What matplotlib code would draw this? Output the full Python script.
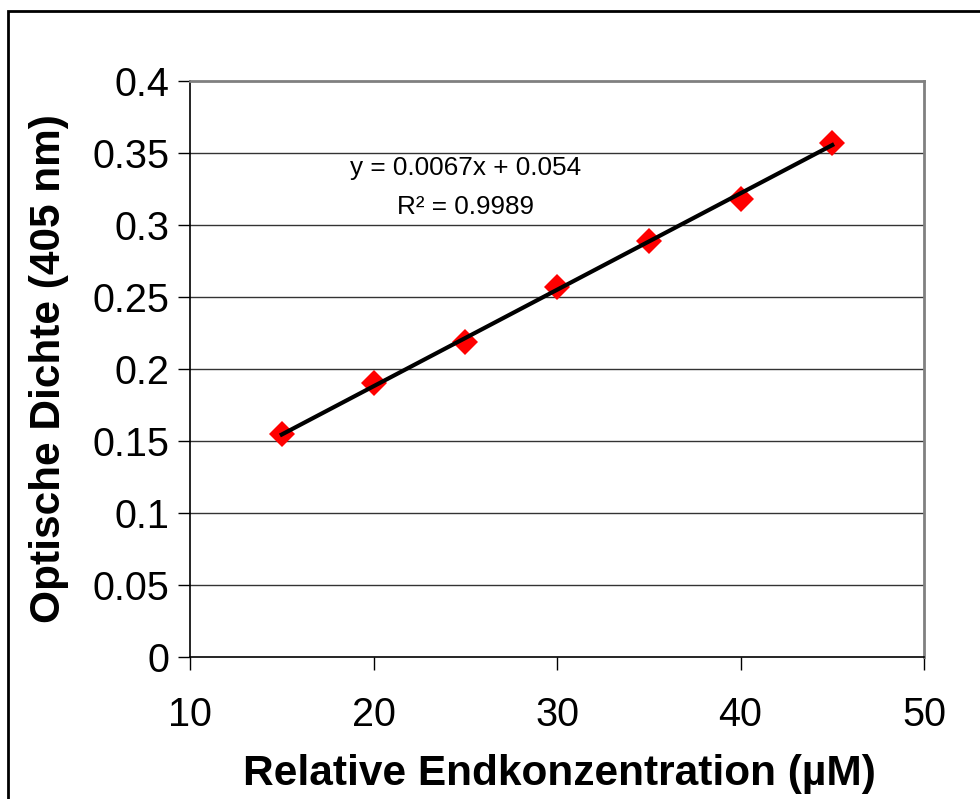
import matplotlib
matplotlib.use("Agg")
import matplotlib.pyplot as plt
from matplotlib.patches import Rectangle
import numpy as np

plt.rcParams["font.family"] = ["Liberation Sans", "DejaVu Sans"]

# data
conc = [15, 20, 25, 30, 35, 40, 45]
od = [0.155, 0.190, 0.219, 0.257, 0.289, 0.318, 0.357]
slope = 0.0067
intercept = 0.054
eq_text = "y = 0.0067x + 0.054"
r2_text = "R² = 0.9989"
x_ticks = [10, 20, 30, 40, 50]
y_ticks = [0, 0.05, 0.1, 0.15, 0.2, 0.25, 0.3, 0.35, 0.4]
y_ticklabels = ["0", "0.05", "0.1", "0.15", "0.2", "0.25", "0.3", "0.35", "0.4"]

fig = plt.figure(figsize=(9.8, 7.99), dpi=100, facecolor="white")
ax = fig.add_axes([190 / 980, 1 - 657 / 799, 734 / 980, 576 / 799])

# outer chart frame (only left and top edge visible in the reference)
fig.patches.append(Rectangle((8 / 980, -0.2), 2.0, 1.2 - 11 / 799, transform=fig.transFigure,
                             fill=False, edgecolor="black", linewidth=2.0))

for y in y_ticks[1:-1]:
    ax.axhline(y, color="#333333", linewidth=1.0, zorder=1)

xfit = np.array([min(conc), max(conc)])
ax.plot(xfit, slope * xfit + intercept, color="black", linewidth=3.0, zorder=3)
ax.plot(conc, od, linestyle="none", marker="D", markersize=13, color="#ff0000",
        markeredgewidth=0, zorder=2)

ax.text(25, 0.3395, eq_text, ha="center", va="center", fontsize=18.8)
ax.text(25, 0.3125, r2_text, ha="center", va="center", fontsize=18.8)

ax.set_xlim(10, 50)
ax.set_ylim(0, 0.4)
ax.set_xticks(x_ticks)
ax.set_yticks(y_ticks)
ax.set_yticklabels(y_ticklabels)
ax.tick_params(axis="both", direction="out", labelsize=28.5, width=1.0, length=9, color="black")
ax.tick_params(axis="x", pad=19)
ax.tick_params(axis="y", pad=6)

for side in ("left", "bottom"):
    ax.spines[side].set_color("black")
    ax.spines[side].set_linewidth(1.2)
for side in ("top", "right"):
    ax.spines[side].set_color("#808080")
    ax.spines[side].set_linewidth(2.0)

ax.set_xlabel("Relative Endkonzentration (µM)", fontsize=30.5, fontweight="bold")
ax.set_ylabel("Optische Dichte (405 nm)", fontsize=30.5, fontweight="bold")
ax.xaxis.set_label_coords(0.504, -0.168)
ax.yaxis.set_label_coords(-0.165, 0.5)

fig.savefig("out.png", dpi=100, facecolor="white")
